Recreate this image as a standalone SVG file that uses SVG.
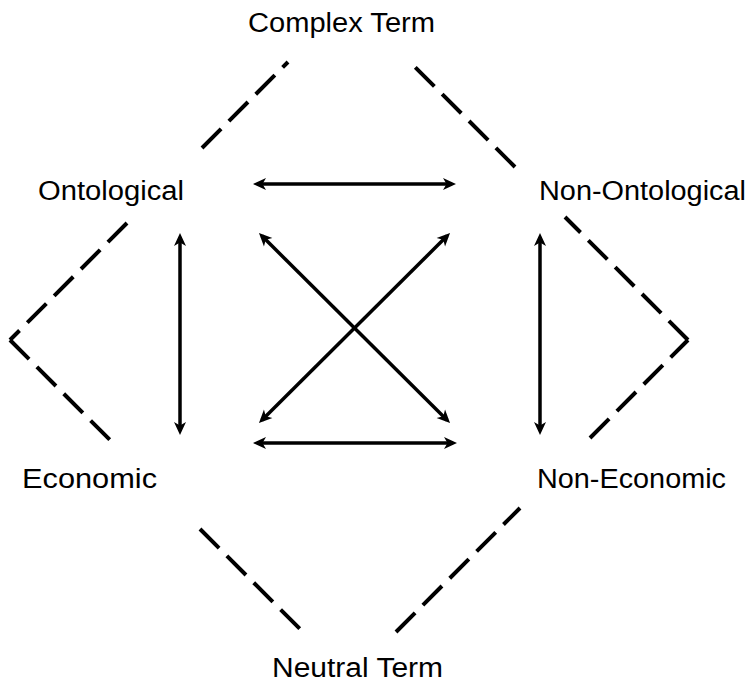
<svg xmlns="http://www.w3.org/2000/svg" width="749" height="682" viewBox="0 0 749 682">
  <style>
    .lbl { font-family: "Liberation Sans", Arial, sans-serif; font-size: 27px; fill: #000; }
    .arrow { stroke: #000; stroke-width: 3.5; fill: none; marker-start: url(#ah); marker-end: url(#ah); }
    .dash { stroke: #000; stroke-width: 4; fill: none; stroke-dasharray: 27 11; }
  </style>
  <defs>
    <marker id="ah" markerUnits="userSpaceOnUse" markerWidth="15" markerHeight="14" viewBox="0 -7 15 14" refX="9" refY="0" orient="auto-start-reverse">
      <path d="M0,-6 L13,0 L0,6 L3.5,0 z" fill="#000"/>
    </marker>
  </defs>
  <rect width="749" height="682" fill="#fff"/>

  <g id="connectors">
    <line class="arrow" x1="257" y1="184" x2="452" y2="184"/>
    <line class="arrow" x1="257" y1="443" x2="453" y2="443"/>
    <line class="arrow" x1="180" y1="237" x2="180" y2="431"/>
    <line class="arrow" x1="540" y1="237" x2="540" y2="431"/>
    <line class="arrow" x1="261.8" y1="235.8" x2="447.2" y2="420.2"/>
    <line class="arrow" x1="447.2" y1="235.8" x2="261.8" y2="420.2"/>
    <line class="dash" x1="202" y1="148" x2="288" y2="62"/>
    <line class="dash" x1="127" y1="223" x2="10" y2="340"/>
    <line class="dash" x1="10" y1="340" x2="110" y2="440"/>
    <line class="dash" x1="200" y1="529" x2="303" y2="632"/>
    <line class="dash" x1="396" y1="632" x2="520" y2="508"/>
    <line class="dash" x1="590" y1="438" x2="688" y2="340"/>
    <line class="dash" x1="688" y1="340" x2="565" y2="217"/>
    <line class="dash" x1="515" y1="167" x2="408" y2="60"/>
  </g>

  <g id="complex-term"><text class="lbl" x="248" y="32" textLength="187" lengthAdjust="spacingAndGlyphs">Complex Term</text></g>
  <g id="ontological"><text class="lbl" x="38" y="200" textLength="146" lengthAdjust="spacingAndGlyphs">Ontological</text></g>
  <g id="non-ontological"><text class="lbl" x="539" y="200" textLength="207" lengthAdjust="spacingAndGlyphs">Non-Ontological</text></g>
  <g id="economic"><text class="lbl" x="22" y="488" textLength="135" lengthAdjust="spacingAndGlyphs">Economic</text></g>
  <g id="non-economic"><text class="lbl" x="537" y="488" textLength="189" lengthAdjust="spacingAndGlyphs">Non-Economic</text></g>
  <g id="neutral-term"><text class="lbl" x="272" y="677" textLength="171" lengthAdjust="spacingAndGlyphs">Neutral Term</text></g>
</svg>
